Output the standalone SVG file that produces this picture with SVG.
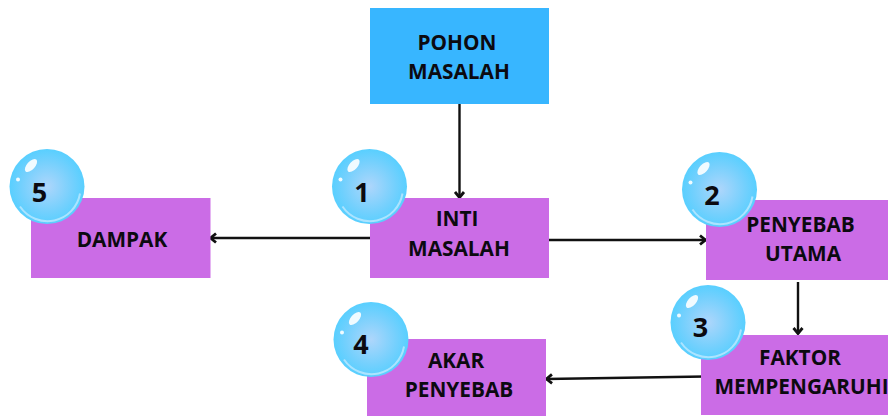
<svg xmlns="http://www.w3.org/2000/svg" width="888" height="416" viewBox="0 0 888 416">
<style>
.box{fill:#cb6ce6}
.top{fill:#38b6ff}
text{font-family:"Open Sans","Noto Sans",sans-serif;font-weight:700;fill:#0c0a10;text-anchor:middle}
.l{font-size:20.800px}
.n{font-size:27px}
.c{fill:none;stroke:#111;stroke-width:2.400;marker-end:url(#a)}
.gloss{fill:none;stroke:#b4e6ff;stroke-width:2;opacity:.9}
</style>
<defs>
<marker id="a" markerUnits="userSpaceOnUse" markerWidth="12" markerHeight="12" refX="9" refY="6" orient="auto">
<path d="M3 1.500L8.500 6L3 10.500" fill="none" stroke="#111" stroke-width="2.800"/>
</marker>
<radialGradient id="b" cx=".5" cy=".5" r=".52">
<stop offset="0" stop-color="#aed6fb"/>
<stop offset=".65" stop-color="#74d0fd"/>
<stop offset="1" stop-color="#55cfff"/>
</radialGradient>
<g id="ball">
<circle r="37.500" fill="url(#b)"/>
<path class="gloss" d="M-27 20A33 33 0 0 0 33 7"/>
<ellipse cx="-16" cy="-21" rx="8" ry="4" transform="rotate(-48 -16 -21)" fill="#fff" opacity=".9"/>
<circle cx="-29" cy="-7" r="2" fill="#fff" opacity=".9"/>
</g>
</defs>
<g id="connectors">
<path class="c" d="M459.500 104V198"/>
<path class="c" d="M370 238H210"/>
<path class="c" d="M549 240H706"/>
<path class="c" d="M798 282V334"/>
<path class="c" d="M705 376.500L546 379"/>
</g>
<g id="node-pohon">
<rect class="top" x="370" y="8" width="179" height="96"/>
<text class="l" x="457" y="50">POHON</text>
<text class="l" x="459" y="79">MASALAH</text>
</g>
<g id="node-dampak">
<rect class="box" x="31" y="198" width="179.500" height="80"/>
<text class="l" x="122" y="246.500">DAMPAK</text>
<use href="#ball" x="47" y="186.500"/>
<text class="n" x="39.500" y="202">5</text>
</g>
<g id="node-inti">
<rect class="box" x="370" y="198" width="179" height="80"/>
<text class="l" x="457" y="226">INTI</text>
<text class="l" x="459" y="256">MASALAH</text>
<use href="#ball" x="369.500" y="186.500"/>
<text class="n" x="362" y="202">1</text>
</g>
<g id="node-penyebab">
<rect class="box" x="706" y="200" width="182" height="80"/>
<text class="l" x="800.500" y="232">PENYEBAB</text>
<text class="l" x="803" y="261">UTAMA</text>
<use href="#ball" x="719.500" y="189.500"/>
<text class="n" x="712" y="205">2</text>
</g>
<g id="node-faktor">
<rect class="box" x="701" y="335" width="187" height="80"/>
<text class="l" x="800" y="365">FAKTOR</text>
<text class="l" x="801.500" y="394">MEMPENGARUHI</text>
<use href="#ball" x="708" y="322.500"/>
<text class="n" x="700.500" y="337">3</text>
</g>
<g id="node-akar">
<rect class="box" x="367" y="339" width="179" height="77"/>
<text class="l" x="456" y="368">AKAR</text>
<text class="l" x="459" y="397">PENYEBAB</text>
<use href="#ball" x="371" y="339.500"/>
<text class="n" x="361" y="354">4</text>
</g>
</svg>
